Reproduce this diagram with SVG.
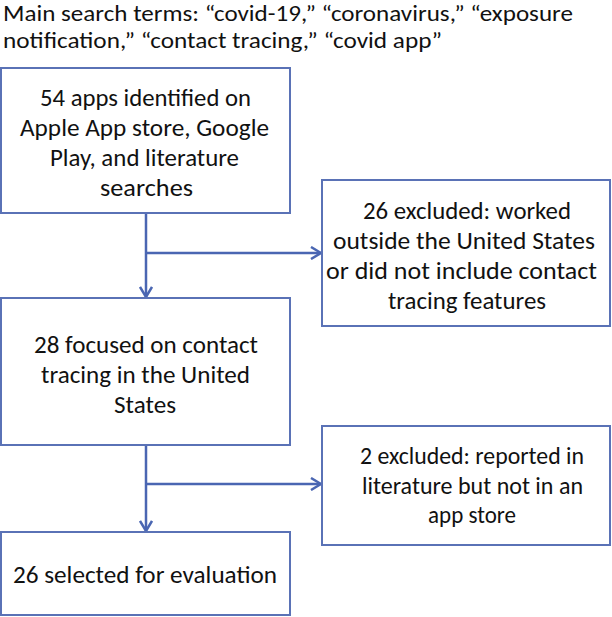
<svg xmlns="http://www.w3.org/2000/svg" width="612" height="617" viewBox="0 0 612 617">
<style>
.box{fill:#ffffff;stroke:#5a72b6;stroke-width:2}
.t{font-family:Carlito,"Liberation Sans",Arial,sans-serif;font-size:24px;fill:#111111}
.h{font-size:22px}
.c{fill:none;stroke:#4a66b2;stroke-width:2.5}
</style>
<defs>
<marker id="arr" viewBox="0 0 12 14" refX="11" refY="7" markerWidth="12" markerHeight="14" markerUnits="userSpaceOnUse" orient="auto">
<path d="M1,1 L11,7 L1,13" fill="none" stroke="#4a66b2" stroke-width="2.5"/>
</marker>
</defs>
<rect width="612" height="617" fill="#ffffff"/>
<g id="title">
<text class="t h" x="3" y="21" textLength="570" lengthAdjust="spacingAndGlyphs">Main search terms: “covid-19,” “coronavirus,” “exposure</text>
<text class="t h" x="3" y="48" textLength="439" lengthAdjust="spacingAndGlyphs">notification,” “contact tracing,” “covid app”</text>
</g>
<g id="connectors">
<path class="c" d="M146,213 V297" marker-end="url(#arr)"/>
<path class="c" d="M146,253 H321" marker-end="url(#arr)"/>
<path class="c" d="M146,445 V531" marker-end="url(#arr)"/>
<path class="c" d="M146,484 H321" marker-end="url(#arr)"/>
</g>
<g id="identified">
<rect class="box" x="1" y="68" width="289" height="145"/>
<text class="t" x="40" y="106" textLength="211" lengthAdjust="spacingAndGlyphs">54 apps identified on</text>
<text class="t" x="20" y="136" textLength="249" lengthAdjust="spacingAndGlyphs">Apple App store, Google</text>
<text class="t" x="50" y="166" textLength="189" lengthAdjust="spacingAndGlyphs">Play, and literature</text>
<text class="t" x="100" y="196" textLength="93" lengthAdjust="spacingAndGlyphs">searches</text>
</g>
<g id="excluded26">
<rect class="box" x="322" y="180" width="288" height="146"/>
<text class="t" x="363" y="219" textLength="208" lengthAdjust="spacingAndGlyphs">26 excluded: worked</text>
<text class="t" x="333" y="249" textLength="262" lengthAdjust="spacingAndGlyphs">outside the United States</text>
<text class="t" x="326" y="279" textLength="271" lengthAdjust="spacingAndGlyphs">or did not include contact</text>
<text class="t" x="388" y="309" textLength="158" lengthAdjust="spacingAndGlyphs">tracing features</text>
</g>
<g id="focused">
<rect class="box" x="1" y="298" width="289" height="147"/>
<text class="t" x="34" y="353" textLength="224" lengthAdjust="spacingAndGlyphs">28 focused on contact</text>
<text class="t" x="41" y="383" textLength="209" lengthAdjust="spacingAndGlyphs">tracing in the United</text>
<text class="t" x="114" y="413" textLength="62" lengthAdjust="spacingAndGlyphs">States</text>
</g>
<g id="excluded2">
<rect class="box" x="322" y="426" width="288" height="119"/>
<text class="t" x="360" y="464" textLength="224" lengthAdjust="spacingAndGlyphs">2 excluded: reported in</text>
<text class="t" x="362" y="494" textLength="221" lengthAdjust="spacingAndGlyphs">literature but not in an</text>
<text class="t" x="428" y="523" textLength="88" lengthAdjust="spacingAndGlyphs">app store</text>
</g>
<g id="selected">
<rect class="box" x="1" y="532" width="289" height="83"/>
<text class="t" x="13" y="583" textLength="264" lengthAdjust="spacingAndGlyphs">26 selected for evaluation</text>
</g>
</svg>
